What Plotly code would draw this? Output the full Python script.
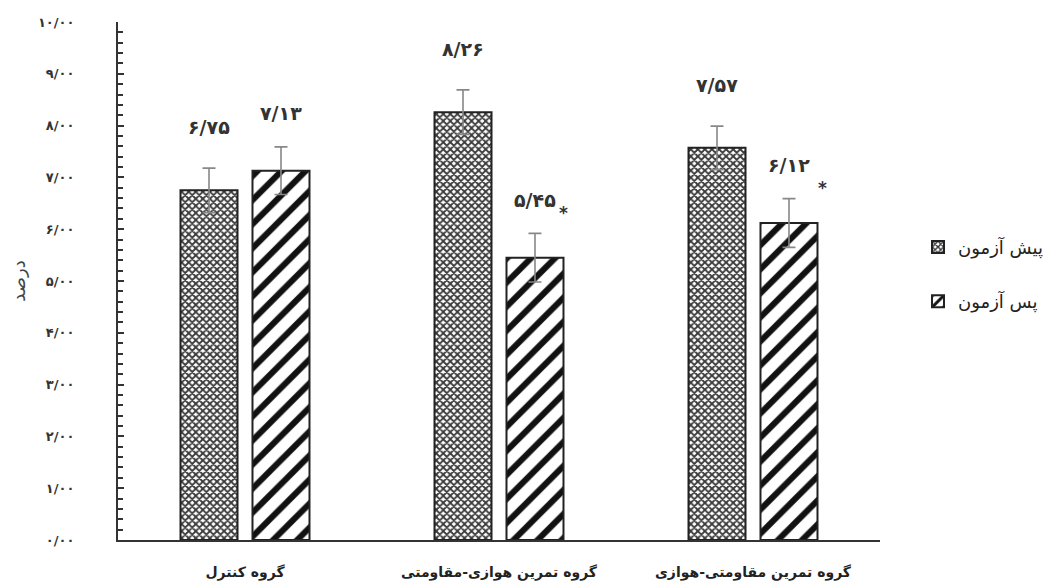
import plotly.graph_objects as go

categories = ["گروه کنترل", "گروه تمرین هوازی-مقاومتی", "گروه تمرین مقاومتی-هوازی"]
pre_values = [6.75, 8.26, 7.57]
post_values = [7.13, 5.45, 6.12]
pre_err = [0.43, 0.43, 0.42]
post_err = [0.46, 0.47, 0.47]
pre_labels = ["۶/۷۵", "۸/۲۶", "۷/۵۷"]
post_labels = ["۷/۱۳", "۵/۴۵", "۶/۱۲"]
star_flags = [False, True, True]
series_names = ["پیش آزمون", "پس آزمون"]
y_tickvals = [0, 1, 2, 3, 4, 5, 6, 7, 8, 9, 10]
y_ticktext = ["۰/۰۰", "۱/۰۰", "۲/۰۰", "۳/۰۰", "۴/۰۰", "۵/۰۰", "۶/۰۰", "۷/۰۰", "۸/۰۰", "۹/۰۰", "۱۰/۰۰"]
y_title = "درصد"

FONT = "DejaVu Sans"
W = 0.2244
PRE_OFF = -0.2539
POST_OFF = 0.0295

fig = go.Figure()
fig.add_trace(go.Bar(
    x=categories, y=pre_values, name=series_names[0], legendgroup="a",
    width=W, offset=PRE_OFF,
    marker=dict(color="white", line=dict(color="#222", width=2),
                pattern=dict(shape="x", size=5, solidity=0.6, fgcolor="#3a3a3a", bgcolor="white",
                             fgopacity=1)),
    error_y=dict(type="data", array=pre_err, color="#888", thickness=1.6, width=6.5),
))
fig.add_trace(go.Bar(
    x=categories, y=post_values, name=series_names[1], legendgroup="b",
    width=W, offset=POST_OFF,
    marker=dict(color="white", line=dict(color="#222", width=2),
                pattern=dict(shape="/", size=17, solidity=0.36, fgcolor="#111", bgcolor="white",
                             fgopacity=1)),
    error_y=dict(type="data", array=post_err, color="#888", thickness=1.6, width=6.5),
))

pre_c = PRE_OFF + W / 2
post_c = POST_OFF + W / 2
LBL = dict(family=FONT, size=19, color="#333")
for i in range(len(categories)):
    fig.add_annotation(x=i + pre_c, y=pre_values[i], text="<b>" + pre_labels[i] + "</b>", showarrow=False,
                       yshift=63, font=LBL, xref="x", yref="y")
    fig.add_annotation(x=i + post_c, y=post_values[i], text="<b>" + post_labels[i] + "</b>", showarrow=False,
                       yshift=58, font=LBL, xref="x", yref="y")
    if star_flags[i]:
        fig.add_annotation(x=i + POST_OFF + W, y=post_values[i], text="<b>*</b>", showarrow=False,
                           xshift=0 if i == 1 else 5, yshift=45 if i == 1 else 35,
                           font=dict(family=FONT, size=17, color="#333"), xref="x", yref="y")

fig.update_layout(
    width=1043, height=575,
    margin=dict(l=110, r=171, t=14, b=43, autoexpand=False),
    paper_bgcolor="white", plot_bgcolor="white",
    barmode="overlay",
    font=dict(family=FONT, size=13, color="#333"),
    legend=dict(xref="container", yref="container", x=0.8725, y=0.537, xanchor="left", yanchor="middle",
                font=dict(family=FONT, size=18, color="#222"),
                tracegroupgap=28, traceorder="grouped"),
    xaxis=dict(type="category", range=[-0.5, 2.5], showline=True, linecolor="#333", linewidth=2,
               ticks="", showgrid=False, tickfont=dict(family=FONT, size=14, color="#222"),
               tickvals=categories, ticktext=["<b>" + c + "</b>" for c in categories],
               automargin=False, ticklabelstandoff=18),
    yaxis=dict(range=[0, 10], tickvals=y_tickvals, ticktext=["<b>" + t + "</b>" for t in y_ticktext],
               showline=True, automargin=False,
               linecolor="#333", linewidth=2, ticks="inside", ticklen=6, tickwidth=2, tickcolor="#333",
               minor=dict(dtick=0.2, ticks="inside", ticklen=5, tickwidth=2, tickcolor="#333"),
               showgrid=False, zeroline=False, ticklabelstandoff=39,
               tickfont=dict(family=FONT, size=13, color="#333"),
               title=dict(text=y_title, font=dict(family=FONT, size=18, color="#444"), standoff=20)),
)

fig.write_html("out.html")
